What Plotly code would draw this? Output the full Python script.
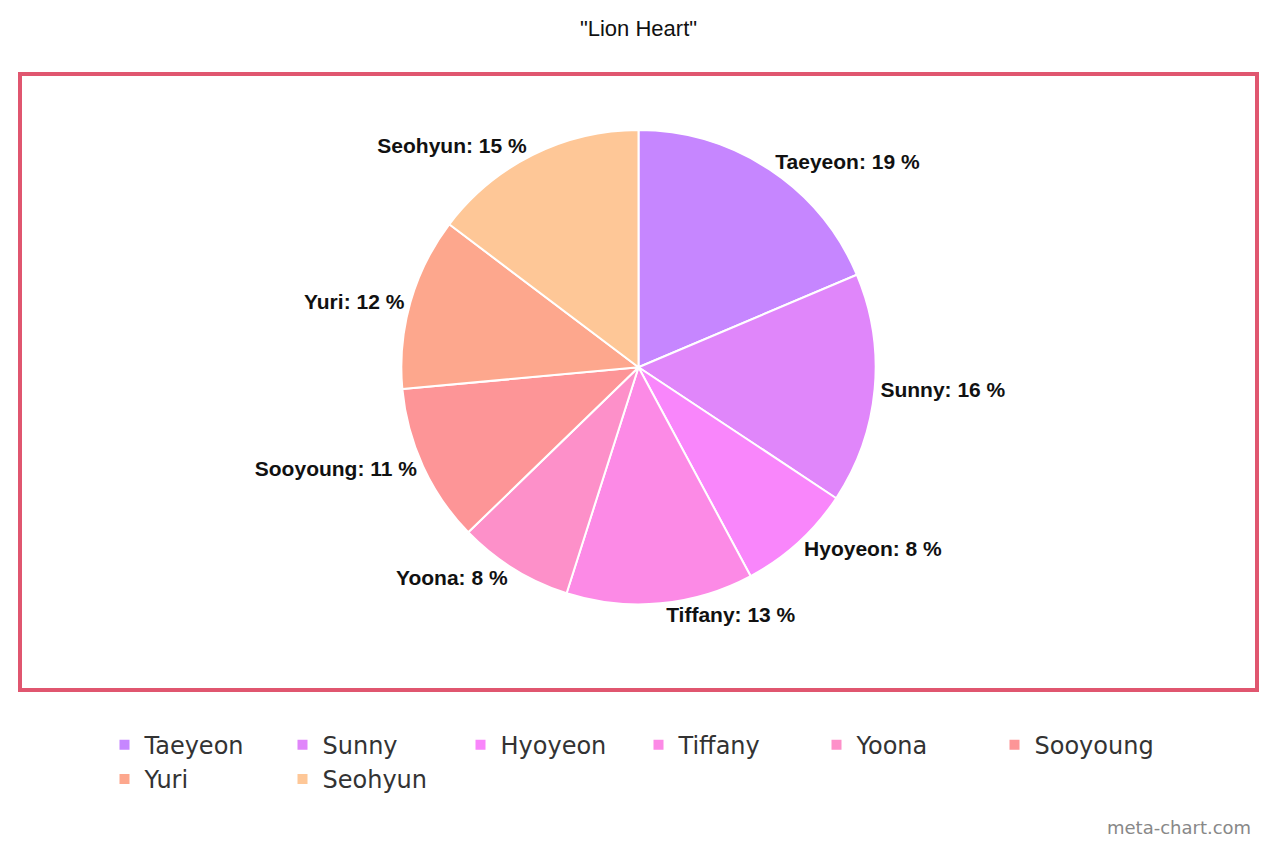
import plotly.graph_objects as go

# Data
members = ['Taeyeon', 'Sunny', 'Hyoyeon', 'Tiffany', 'Yoona', 'Sooyoung', 'Yuri', 'Seohyun']
shares = [19, 16, 8, 13, 8, 11, 12, 15]
colors = ['#c686ff', '#e086fa', '#f986fb', '#fc8ae6', '#fd90c9', '#fd9597', '#fda78d', '#fec797']

fig = go.Figure()

fig.add_trace(go.Pie(
    labels=members,
    values=shares,
    sort=False,
    direction='clockwise',
    rotation=0,
    marker=dict(colors=colors, line=dict(color='white', width=2)),
    textposition='outside',
    texttemplate='<b>%{label}: %{value} %</b>',
    textfont=dict(family='Liberation Sans, Arial', size=21, color='#111'),
    domain=dict(x=[0, 1], y=[0.139, 0.909]),
    hoverinfo='label+percent',
))

fig.update_layout(
    autosize=True,
    title=dict(text='"Lion Heart"', x=0.5, xanchor='center', y=0.976, yanchor='middle',
               font=dict(family='Liberation Sans, Arial', size=22, color='#111')),
    # fixed margins, nothing may push them
    margin=dict(l=12, r=12, t=66, b=149, autoexpand=False),
    paper_bgcolor='white',
    plot_bgcolor='white',
    legend=dict(
        orientation='h',
        xref='container', yref='container',
        x=0.5, xanchor='center',
        y=0.14, yanchor='top',
        font=dict(family='DejaVu Sans', size=24, color='#333'),
        entrywidth=133,
        entrywidthmode='pixels',
    ),
    shapes=[dict(type='rect', xref='paper', yref='paper', x0=0, x1=1, y0=0, y1=1,
                 line=dict(color='#e0566f', width=4))],
    annotations=[dict(text='meta-chart.com', xref='paper', yref='paper', x=1.0, y=-0.224,
                      xanchor='right', yanchor='middle', showarrow=False, xshift=-4,
                      font=dict(family='DejaVu Sans', size=18, color='#888'))],
)

fig.write_html("out.html")
